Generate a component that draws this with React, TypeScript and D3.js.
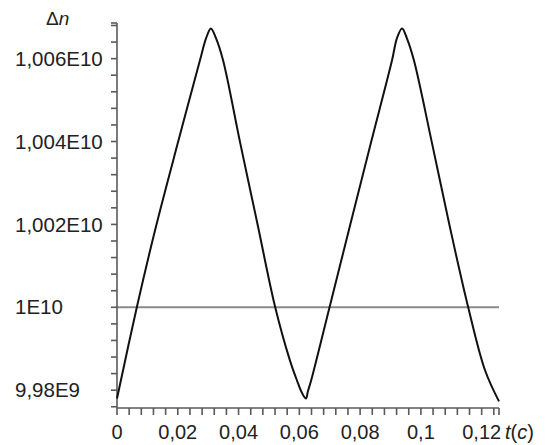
import React from "react";
import * as d3 from "d3";

const W = 548;
const H = 445;

// time (s)
const tValues = [
  0, 0.00658, 0.01283, 0.02007, 0.0273, 0.0293, 0.0309, 0.0326, 0.0349, 0.0405,
  0.0464, 0.052, 0.0569, 0.0592, 0.0609, 0.0622, 0.0628, 0.0639, 0.07, 0.0766,
  0.0836, 0.0905, 0.0921, 0.0938, 0.0954, 0.0977, 0.1036, 0.1095, 0.1155, 0.1211,
  0.1257,
];
// Δn values
const nValues = [
  9.978e9, 1.00002e10, 1.00195e10, 1.00398e10, 1.00596e10, 1.00649e10, 1.00673e10,
  1.00649e10, 1.00596e10, 1.00398e10, 1.00195e10, 1.00002e10, 9.9872e9, 9.9824e9,
  9.9793e9, 9.978e9, 9.9797e9, 9.9824e9, 1.00002e10, 1.00195e10, 1.00398e10,
  1.00596e10, 1.00649e10, 1.00673e10, 1.00649e10, 1.00596e10, 1.00398e10,
  1.00195e10, 1.00002e10, 9.9848e9, 9.9773e9,
];
const referenceLevel = 1e10;

const xTickValues = [0, 0.02, 0.04, 0.06, 0.08, 0.1, 0.12];
const xTickLabels = ["0", "0,02", "0,04", "0,06", "0,08", "0,1", "0,12"];
const yTickValues = [9.98e9, 1e10, 1.002e10, 1.004e10, 1.006e10];
const yTickLabels = ["9,98E9", "1E10", "1,002E10", "1,004E10", "1,006E10"];

const xDomain = [0, 0.1257];
const yDomain = [9.9757e9, 1.00686e10];

export default function App() {
  const x = d3.scaleLinear().domain(xDomain).range([117, 499]);
  const y = d3.scaleLinear().domain(yDomain).range([408, 23]);

  const data = tValues.map((t, i) => ({ t, v: nValues[i] }));
  const line = d3
    .line<{ t: number; v: number }>()
    .x((d) => x(d.t))
    .y((d) => y(d.v))
    .curve(d3.curveCatmullRom.alpha(0.5));

  const xMinor: number[] = [];
  for (let k = 0; k <= 31; k++) xMinor.push(k * 0.004);
  xMinor.push(xDomain[1]);
  const yMinor: number[] = [];
  for (let k = 0; k <= 23; k++) yMinor.push(9.976e9 + k * 4e6);
  yMinor.push(yDomain[1]);

  const axisColor = "#5a5a5a";
  const font = "'Liberation Sans', Arial, sans-serif";

  return (
    <svg
      width={W}
      height={H}
      style={{ position: "absolute", left: 0, top: 0, background: "#fff" }}
      fontFamily={font}
    >
      <rect width={W} height={H} fill="#fff" />
      {/* reference horizontal line */}
      <line
        x1={x(xDomain[0])}
        x2={x(xDomain[1])}
        y1={y(referenceLevel)}
        y2={y(referenceLevel)}
        stroke="#8a8a8a"
        strokeWidth={2}
      />
      {/* y axis */}
      <line x1={x(0)} x2={x(0)} y1={y(yDomain[0])} y2={y(yDomain[1])} stroke={axisColor} strokeWidth={1.6} />
      {yMinor.map((v, i) => (
        <line key={"ym" + i} x1={x(0) - 6} x2={x(0)} y1={y(v)} y2={y(v)} stroke={axisColor} strokeWidth={1.6} />
      ))}
      {/* x axis */}
      <line x1={x(xDomain[0])} x2={x(xDomain[1])} y1={y(yDomain[0])} y2={y(yDomain[0])} stroke={axisColor} strokeWidth={1.6} />
      {xMinor.map((t, i) => (
        <line key={"xm" + i} x1={x(t)} x2={x(t)} y1={y(yDomain[0])} y2={y(yDomain[0]) + 7} stroke={axisColor} strokeWidth={1.6} />
      ))}
      {/* curve */}
      <path d={line(data) || ""} fill="none" stroke="#111" strokeWidth={2} strokeLinejoin="round" />
      {/* y labels */}
      {yTickValues.map((v, i) => (
        <text key={"yl" + i} x={15} y={y(v)} dy="0.35em" fontSize={20.5} fill="#222">
          {yTickLabels[i]}
        </text>
      ))}
      {/* x labels */}
      {xTickValues.map((t, i) => (
        <text key={"xl" + i} x={x(t)} y={439} textAnchor="middle" fontSize={20} fill="#222">
          {xTickLabels[i]}
        </text>
      ))}
      <text x={505} y={439} fontSize={20} fill="#222">
        <tspan fontStyle="italic">t</tspan>
        <tspan>(</tspan>
        <tspan fontStyle="italic">c</tspan>
        <tspan>)</tspan>
      </text>
      <text x={46} y={25} fontSize={19} fill="#222">
        <tspan>Δ</tspan>
        <tspan fontStyle="italic">n</tspan>
      </text>
    </svg>
  );
}
